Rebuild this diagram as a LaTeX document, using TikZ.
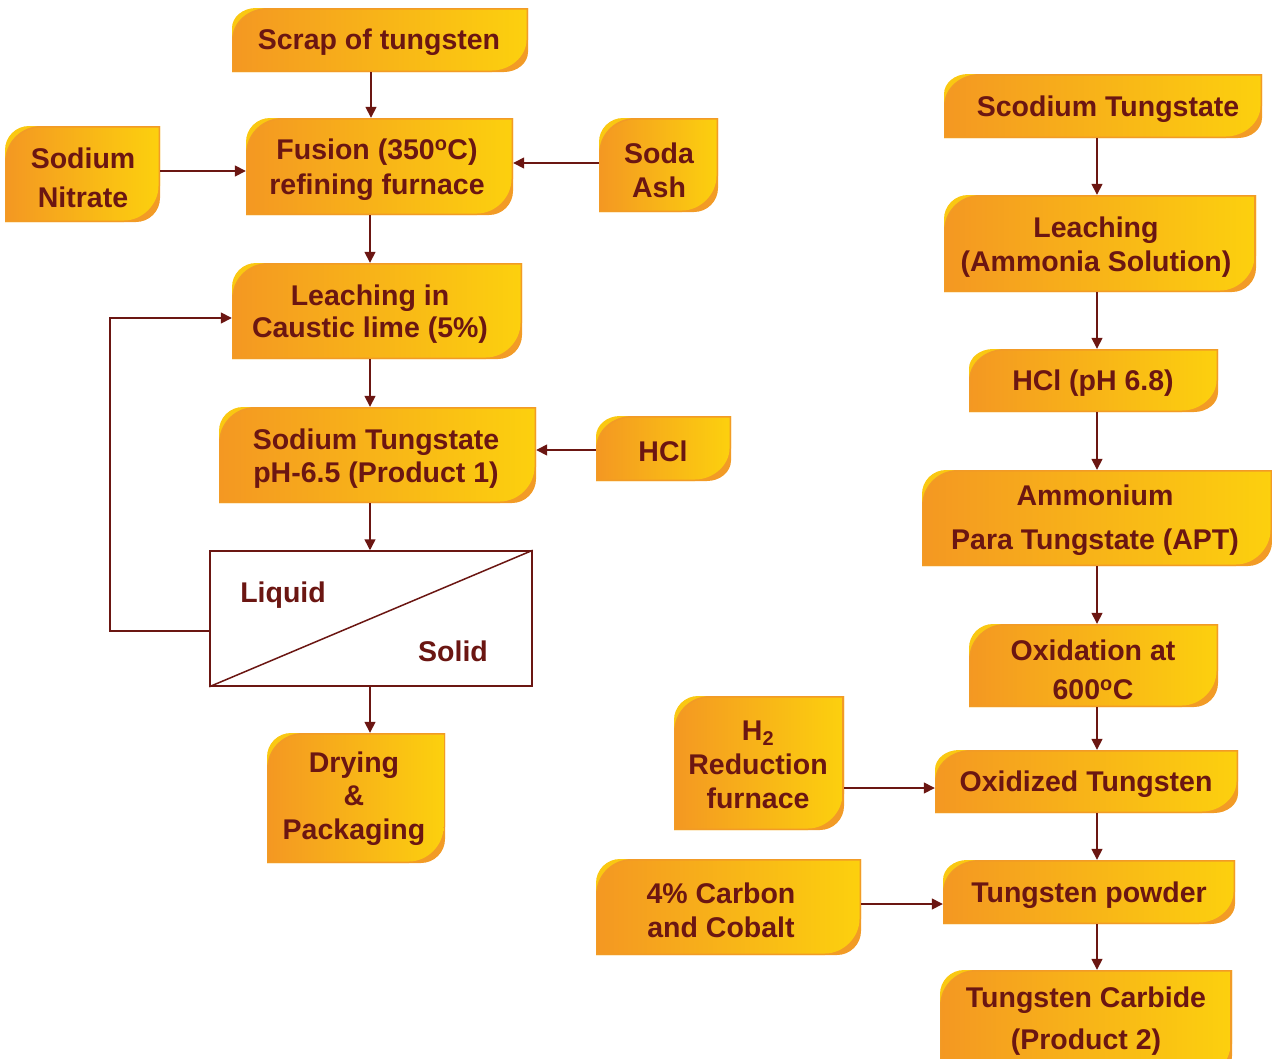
\documentclass[tikz,border=0pt]{standalone}
\usepackage{fontspec}
\setmainfont{Liberation Sans}
\usetikzlibrary{arrows.meta}

\definecolor{ink}{RGB}{107,22,18}
\definecolor{leftorange}{RGB}{244,152,34}
\definecolor{rightyellow}{RGB}{252,208,14}
\definecolor{rimyellow}{RGB}{250,200,18}
\definecolor{rimorange}{RGB}{242,155,38}

\tikzset{
  txt/.style={text=ink, inner sep=0pt, align=center},
  arr/.style={draw=ink, line width=1.5bp, -{Triangle[length=11bp,width=11bp]}},
  plain/.style={draw=ink, line width=1.5bp},
}

% leaf-shaped box: #1 name, (#2,#3) top-left, (#4,#5) bottom-right,
% (#6,#7) text centre, #8 line skip, #9 text
\newcommand\leaf[9]{%
  \pgfmathsetmacro\rx{36}%
  \pgfmathsetmacro\ry{min(36,0.5*(#5-#3))}%
  \pgfmathsetmacro\sx{\rx-12}%
  \pgfmathsetmacro\sy{\ry-12}%
  \pgfmathsetmacro\bw{#4-#2}%
  \pgfmathsetmacro\bh{#5-#3}%
  % yellow rim at the top-left corner
  \fill[rimyellow] (#2,#5) -- (#2,#3+\sy)
     .. controls (#2,#3+0.448*\sy) and (#2+0.448*\sx,#3) .. (#2+\sx,#3)
     -- (#4,#3) -- (#4,#5-\ry)
     .. controls (#4,#5-0.448*\ry) and (#4-0.448*\rx,#5) .. (#4-\rx,#5) -- cycle;
  % orange rim at the bottom-right corner
  \fill[rimorange] (#2,#5) -- (#2,#3+\ry)
     .. controls (#2,#3+0.448*\ry) and (#2+0.448*\rx,#3) .. (#2+\rx,#3)
     -- (#4,#3) -- (#4,#5-\sy)
     .. controls (#4,#5-0.448*\sy) and (#4-0.448*\sx,#5) .. (#4-\sx,#5) -- cycle;
  % main body
  \shade[left color=leftorange, right color=rightyellow]
     (#2+1.5,#5-1.5) -- (#2+1.5,#3+\ry)
     .. controls (#2+1.5,#3+1.5+0.448*\ry) and (#2+1.5+0.448*\rx,#3+1.5) .. (#2+\rx,#3+1.5)
     -- (#4-1.5,#3+1.5) -- (#4-1.5,#5-\ry)
     .. controls (#4-1.5,#5-1.5-0.448*\ry) and (#4-1.5-0.448*\rx,#5-1.5) .. (#4-\rx,#5-1.5) -- cycle;
  \node[inner sep=0pt, minimum width=\bw bp, minimum height=\bh bp] (#1)
     at ({(#2+#4)/2},{(#3+#5)/2}) {};
  \node[txt, font={\fontsize{28.5bp}{#8bp}\selectfont\bfseries}] (#1-t) at (#6,#7+2.5) {#9};
}

\begin{document}
\begin{tikzpicture}[x=1bp, y=-1bp]
\useasboundingbox (0,0) rectangle (1272,1059);
\clip (0,0) rectangle (1272,1059);

% left-hand process
\leaf{scrap}{232}{8}{528}{72}{379}{40}{32}{Scrap of tungsten}
\leaf{fusion}{246}{118}{513}{215}{377}{167}{35}{Fusion (350\textsuperscript{o}C)\\refining furnace}
\leaf{nitrate}{5}{126}{160}{222}{83}{175}{39}{Sodium\\Nitrate}
\leaf{soda}{599}{118}{718}{212}{659}{168}{34}{Soda\\Ash}
\leaf{leach}{232}{263}{522}{359}{370}{312}{32}{Leaching in\\Caustic lime (5\%)}
\leaf{sodt}{219}{407}{536}{503}{376}{456}{33}{Sodium Tungstate\\pH-6.5 (Product 1)}
\leaf{hcl}{596}{416}{731}{481}{663}{449}{32}{HCl}
\leaf{dry}{267}{733}{445}{863}{354}{796}{33.5}{Drying\\\&\\Packaging}

\node[plain, fill=white, inner sep=0pt, minimum width=322bp, minimum height=135bp]
  (liqsol) at (371,618.5) {};
\draw[plain] (liqsol.south west) -- (liqsol.north east);
\node[txt, font={\fontsize{28.5bp}{32bp}\selectfont\bfseries}] (liquid) at (283,595) {Liquid};
\node[txt, font={\fontsize{28.5bp}{32bp}\selectfont\bfseries}] (solid) at (453,651) {Solid};

% right-hand process
\leaf{scod}{944}{74}{1262}{138}{1108}{107}{32}{Scodium Tungstate}
\leaf{leacha}{944}{195}{1256}{292}{1096}{245}{34}{Leaching\\(Ammonia Solution)}
\leaf{hclph}{969}{349}{1218}{412}{1093}{381}{32}{HCl (pH 6.8)}
\leaf{apt}{922}{470}{1272}{566}{1095}{518}{44}{Ammonium\\Para Tungstate (APT)}
\leaf{oxid}{969}{624}{1218}{707}{1093}{667}{39}{Oxidation at\\600\textsuperscript{o}C}
\leaf{oxt}{935}{750}{1238}{813}{1086}{782}{32}{Oxidized Tungsten}
\leaf{h2}{674}{696}{844}{830}{758}{762}{34}{H\textsubscript{2}\\Reduction\\furnace}
\leaf{powder}{943}{860}{1235}{924}{1089}{893}{32}{Tungsten powder}
\leaf{carbon}{596}{859}{861}{955}{721}{908}{34}{4\% Carbon\\and Cobalt}
\leaf{carbide}{940}{970}{1232}{1080}{1086}{1019}{42}{Tungsten Carbide\\(Product 2)}

% connectors, left
\draw[arr] (371,0 |- scrap.south) -- (371,0 |- fusion.north);
\draw[arr] (nitrate.east |- 0,171) -- (fusion.west |- 0,171);
\draw[arr] (soda.west |- 0,163) -- (fusion.east |- 0,163);
\draw[arr] (370,0 |- fusion.south) -- (370,0 |- leach.north);
\draw[arr] (370,0 |- leach.south) -- (370,0 |- sodt.north);
\draw[arr] (hcl.west |- 0,450) -- (sodt.east |- 0,450);
\draw[arr] (370,0 |- sodt.south) -- (370,0 |- liqsol.north);
\draw[arr] (liqsol.west |- 0,631) -- (110,631) -- (110,318) -- (leach.west |- 0,318);
\draw[arr] (370,0 |- liqsol.south) -- (370,0 |- dry.north);

% connectors, right
\draw[arr] (1097,0 |- scod.south) -- (1097,0 |- leacha.north);
\draw[arr] (1097,0 |- leacha.south) -- (1097,0 |- hclph.north);
\draw[arr] (1097,0 |- hclph.south) -- (1097,0 |- apt.north);
\draw[arr] (1097,0 |- apt.south) -- (1097,0 |- oxid.north);
\draw[arr] (1097,0 |- oxid.south) -- (1097,0 |- oxt.north);
\draw[arr] (1097,0 |- oxt.south) -- (1097,0 |- powder.north);
\draw[arr] (1097,0 |- powder.south) -- (1097,0 |- carbide.north);
\draw[arr] (h2.east |- 0,788) -- (oxt.west |- 0,788);
\draw[arr] (carbon.east |- 0,904) -- (powder.west |- 0,904);
\end{tikzpicture}
\end{document}
